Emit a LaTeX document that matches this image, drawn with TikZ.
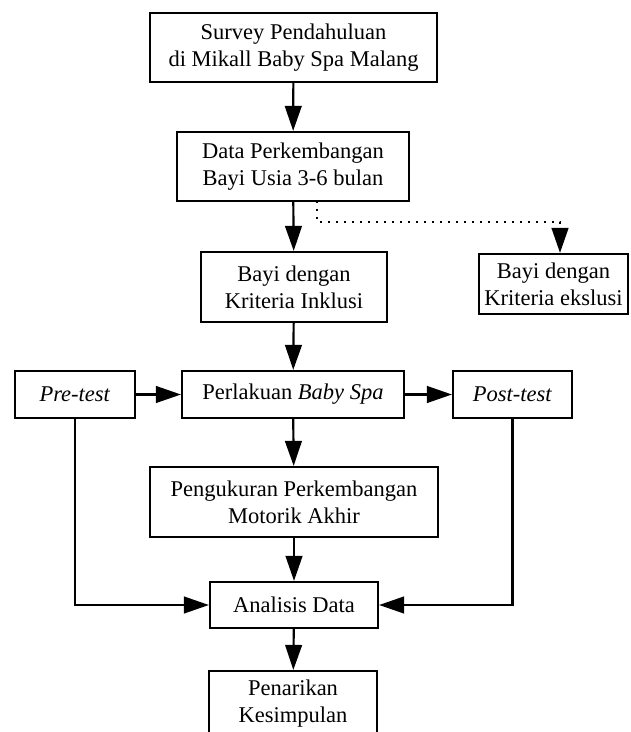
\documentclass[tikz,border=0pt]{standalone}
\usepackage{fontspec}
\setmainfont{Liberation Serif}
\usetikzlibrary{arrows.meta}

\tikzset{
  kotak/.style={draw, line width=1.3pt, inner sep=0pt, align=center,
    font=\fontsize{13.5pt}{16.2pt}\selectfont},
  panah/.style={line width=1.3pt, -{Triangle[length=15pt,width=10pt]}},
  titik/.style={panah, line width=1.4pt, dash pattern=on 1.4pt off 3.4pt}
}

\begin{document}
\begin{tikzpicture}[x=0.6pt,y=-0.6pt]
		%%%%% START %%%%%
		\useasboundingbox (0,0) rectangle (630,732);
		\clip (0,0) rectangle (630,732);
		
		\node[kotak, minimum width=172.2pt, minimum height=41.4pt] (survey) at (293.5, 47.5) {Survey Pendahuluan\\di Mikall Baby Spa Malang};
		\node[kotak, minimum width=139.2pt, minimum height=41.4pt] (data) at (293, 166.5) {Data Perkembangan\\Bayi Usia 3-6 bulan};
		\node[kotak, minimum width=111.6pt, minimum height=42pt] (inklusi) at (294, 287) {Bayi dengan\\Kriteria Inklusi};
		\node[kotak, minimum width=89.4pt, minimum height=36pt] (ekslusi) at (553.5, 284) {Bayi dengan\\Kriteria ekslusi};
		
		\node[kotak, minimum width=72pt, minimum height=28.2pt] (pre) at (75, 394.5) {\textit{Pre-test}};
		\node[kotak, minimum width=133.2pt, minimum height=28.2pt] (perlakuan) at (293, 394.5) {Perlakuan \textit{Baby Spa}};
		\node[kotak, minimum width=71.4pt, minimum height=28.2pt] (post) at (512.5, 394.5) {\textit{Post-test}};
		
		\node[kotak, minimum width=172.8pt, minimum height=42pt] (ukur) at (294, 502) {Pengukuran Perkembangan\\Motorik Akhir};
		\node[kotak, minimum width=100.8pt, minimum height=27.6pt] (analisis) at (294, 605) {Analisis Data};
		\node[kotak, minimum width=100.8pt, minimum height=39pt] (tarik) at (293, 703.5) {Penarikan\\Kesimpulan};
		
		\draw[panah] (survey) -- (data);
		\draw[panah] (data) -- (inklusi);
		\draw[panah] (inklusi) -- (perlakuan);
		\draw[panah] (pre) -- (perlakuan);
		\draw[panah] (perlakuan) -- (post);
		\draw[panah] (perlakuan) -- (ukur);
		\draw[panah] (ukur) -- (analisis);
		\draw[panah] (pre.south) |- (analisis.west);
		\draw[panah] (post.south) |- (analisis.east);
		\draw[panah] (analisis) -- (tarik);
		
		% cabang eksklusi
		\coordinate (c1) at (317, 201);
		\coordinate (c2) at (560, 222);
		\draw[titik] (c1) |- (c2) -- (c2 |- ekslusi.north);
		%%%%% END %%%%%
\end{tikzpicture}
\end{document}
